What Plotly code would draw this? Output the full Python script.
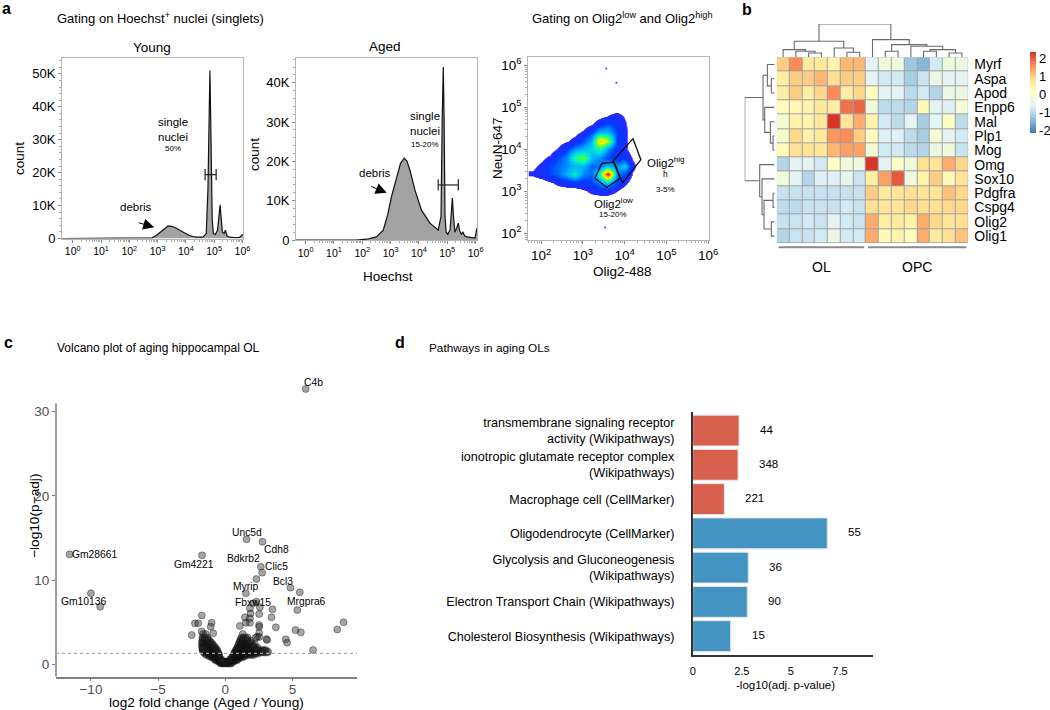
import math
import plotly.graph_objects as go

W, H = 1050, 710
FONT = "Liberation Sans, Arial, Helvetica, sans-serif"

# ============================ DATA ============================
# --- a: Hoechst histograms (x = log10 Hoechst intensity, y = events) ---
hoechst_decades = [0, 1, 2, 3, 4, 5, 6]
young_log_hoechst = [-0.38, 2.65, 2.8, 2.95, 3.1, 3.25, 3.37, 3.5, 3.65, 3.8, 3.95, 4.1, 4.25, 4.4,
                     4.6, 4.72, 4.78, 4.82, 4.85, 4.88, 4.93, 4.97, 5.04, 5.12, 5.17, 5.21, 5.24,
                     5.29, 5.35, 5.4, 5.45, 5.55, 5.7, 5.9, 5.97, 6.03]
young_count = [0, 0, 200, 900, 2000, 3200, 3800, 3700, 3200, 2400, 1600, 1000, 600, 400,
               400, 1500, 15000, 45000, 51000, 35000, 6000, 1500, 1200, 2500, 7500, 10200, 7000,
               2000, 1500, 2500, 800, 400, 300, 300, 1000, 1200]
aged_log_hoechst = [-0.34, 1.8, 2.15, 2.5, 2.74, 2.9, 3.03, 3.21, 3.35, 3.48, 3.58, 3.68, 3.86, 4.09,
                    4.39, 4.68, 4.78, 4.82, 4.86, 4.89, 4.92, 4.96, 5.02, 5.1, 5.14, 5.18, 5.22,
                    5.27, 5.33, 5.39, 5.44, 5.5, 5.55, 5.62, 5.7, 5.85, 5.98, 6.02, 6.05]
aged_count = [0, 0, 200, 800, 2500, 6500, 11000, 16000, 19500, 20800, 20000, 17800, 12700, 7600,
              4300, 2500, 6000, 30000, 44000, 30000, 6000, 2000, 1500, 2500, 8000, 10700, 6000,
              2000, 3000, 4300, 2200, 1500, 2000, 1000, 800, 600, 500, 2000, 3000]
young_gate_log = [4.68, 5.07]
young_gate_count = 19400
aged_gate_log = [4.68, 5.39]
aged_gate_count = 14000
young_count_ticks = [0, 10000, 20000, 30000, 40000, 50000]
young_count_labels = ["0", "10K", "20K", "30K", "40K", "50K"]
aged_count_ticks = [0, 10000, 20000, 30000, 40000]
aged_count_labels = ["0", "10K", "20K", "30K", "40K"]

# --- a: Olig2 / NeuN density plot (log10 units), density ---
olig2_decades = [2, 3, 4, 5, 6]
neun_decades = [2, 3, 4, 5, 6]
density_log_olig2 = [1.8, 2.0, 2.2, 2.4, 2.6, 2.8, 3.0, 3.2, 3.4, 3.6, 3.8, 4.0, 4.2, 4.4, 4.6]
density_log_neun = [2.8, 3.0, 3.2, 3.4, 3.6, 3.8, 4.0, 4.2, 4.4, 4.6, 4.8, 5.0]
density = [
    [0,   0,   0,   0,   0,   0,   0,   0,   0,   0,   0,   0,   0,   0, 0],
    [0,   0,   0,   0,   0,   0,   0.3, 0.7, 0.9, 0.9, 0.5, 0,   0,   0, 0],
    [0,   0,   0.3, 0.7, 1.0, 1.2, 1.2, 1.5, 2.3, 3.2, 1.4, 0.7, 0,   0, 0],
    [0.6, 1.0, 1.6, 2.0, 3.0, 4.0, 2.5, 2.0, 4.5, 10., 2.5, 1.6, 0.4, 0, 0],
    [0.3, 0.7, 1.6, 2.0, 2.5, 3.0, 3.0, 2.0, 2.0, 3.0, 2.5, 3.5, 0.7, 0, 0],
    [0,   0.3, 0.7, 1.6, 2.4, 4.5, 5.5, 3.0, 2.5, 1.6, 1.2, 1.2, 0.4, 0, 0],
    [0,   0,   0,   0.6, 1.5, 2.5, 3.0, 3.5, 4.5, 2.5, 1.2, 0.7, 0,   0, 0],
    [0,   0,   0,   0,   0.4, 0.8, 1.6, 3.0, 7.5, 6.0, 1.6, 0.7, 0,   0, 0],
    [0,   0,   0,   0,   0,   0.2, 0.6, 1.5, 3.0, 3.0, 1.6, 0.7, 0,   0, 0],
    [0,   0,   0,   0,   0,   0,   0,   0.4, 1.1, 1.8, 1.3, 0.6, 0,   0, 0],
    [0,   0,   0,   0,   0,   0,   0,   0,   0.2, 0.5, 0.8, 0.4, 0,   0, 0],
    [0,   0,   0,   0,   0,   0,   0,   0,   0,   0,   0,   0,   0,   0, 0],
]
stray_log_olig2 = [3.56, 3.80, 3.53]
stray_log_neun = [5.92, 5.58, 2.14]
gate_low_olig2 = [3.29, 3.45, 3.75, 3.89, 3.57, 3.29]
gate_low_neun = [3.31, 3.66, 3.69, 3.31, 3.09, 3.31]
gate_high_olig2 = [3.72, 4.20, 4.39, 3.95, 3.72]
gate_high_neun = [3.72, 4.25, 3.75, 3.20, 3.72]

# --- b: heatmap of OL / OPC markers (row z-scores) ---
genes = ["Myrf", "Aspa", "Apod", "Enpp6", "Mal", "Plp1", "Mog",
         "Omg", "Sox10", "Pdgfra", "Cspg4", "Olig2", "Olig1"]
cell_groups = ["OL"] * 7 + ["OPC"] * 8
heat_values = [
    [1.0, 1.6, 0.6, 0.6, 0.4, 1.2, 1.2, -0.6, -0.3, -0.3, -1.3, -1.5, -0.8, -0.3, -0.4],
    [0.5, 1.0, 1.0, 1.2, 0.8, 1.0, 1.0, -0.6, -0.8, -0.8, -1.2, -0.9, -0.4, -0.6, -0.6],
    [0.5, 1.0, 0.5, 0.9, 1.6, 0.5, 0.9, 0.1, -0.6, -0.6, -1.0, -0.8, -1.1, -0.4, -0.4],
    [0.1, 0.2, 0.4, 0.6, 0.5, 1.8, 1.9, -0.3, -1.0, -1.0, -1.1, 0.2, -0.6, -0.7, -0.2],
    [-0.2, 0.4, 0.4, 0.6, 2.3, 0.7, 1.3, 0.4, -0.8, -1.0, -0.6, -1.2, -0.6, 0.0, -1.0],
    [-0.1, 0.9, 0.4, 0.6, 1.5, 1.6, 1.0, 0.1, -0.7, -0.7, -1.0, -1.2, -0.2, -0.6, -0.8],
    [0.2, 0.8, 0.7, 0.6, 1.2, 1.4, 1.4, -0.2, -0.8, -0.8, -1.0, -1.1, -0.4, -0.3, -0.9],
    [-1.1, -0.6, -0.6, -0.8, 0.0, -0.3, -0.3, 2.3, -0.6, 0.0, -0.3, 0.8, 0.7, 1.3, 0.9],
    [-0.3, -0.6, -1.1, -0.7, -0.7, -0.5, -0.9, 0.5, 1.4, 2.0, -0.3, 0.4, 1.0, 0.2, 0.7],
    [-0.9, -0.9, -0.9, -0.9, -0.9, -0.9, -0.9, 1.0, 0.6, 0.7, 0.8, 0.7, 0.7, 1.1, 0.9],
    [-1.0, -1.0, -0.9, -0.9, -0.9, -0.8, -0.9, 0.8, 0.7, 0.7, 0.9, 0.8, 0.8, 0.9, 0.9],
    [-0.9, -0.9, -0.8, -0.9, -0.6, -0.8, -0.9, 1.3, 0.5, 0.6, 0.4, 1.3, 0.9, 0.7, 0.8],
    [-1.1, -0.9, -0.9, -0.8, -0.4, -0.8, -0.8, 1.3, 0.2, 0.4, 0.1, 1.3, 0.6, 0.8, 1.1],
]
heat_zmin, heat_zmax = -2.17, 2.33
# hierarchical clustering merges: (child a, child b, height); leaves are 0..n-1
col_merges = [(5, 6, 15), (4, 15, 28), (2, 3, 13), (1, 17, 18), (0, 18, 23), (19, 16, 48),
              (8, 9, 18), (13, 14, 13), (11, 12, 18), (23, 22, 23), (10, 24, 33), (21, 25, 38),
              (7, 26, 53), (20, 27, 100)]
row_merges = [(1, 2, 10), (0, 13, 22), (5, 6, 5), (4, 15, 13), (3, 16, 30), (14, 17, 35),
              (9, 10, 5), (11, 12, 10), (19, 20, 32), (8, 21, 38), (7, 22, 45), (18, 23, 90)]

# --- c: volcano plot ---
gene_names = ["C4b", "Gm28661", "Gm10136", "Gm4221", "Unc5d", "Cdh8", "Bdkrb2", "Clic5",
              "Bcl3", "Myrip", "Fbxw15", "Mrgpra6"]
gene_lfc = [5.98, -11.59, -10.0, -1.73, 1.58, 2.77, 2.64, 2.74, 4.85, 1.53, 2.32, 5.54]
gene_nlp = [32.7, 13.06, 8.43, 12.94, 14.84, 14.56, 11.59, 10.88, 9.1, 8.43, 7.44, 8.55]
other_lfc = [-9.31, 2.32, 5.36, 3.51, 3.44, 3.76, 3.06, 4.5, 4.6, 5.22, 5.62, 6.53, 8.33, 8.8,
             -2.5, -2.26, -2.01, -1.75, -1.02, -1.09, -1.76, -0.9, -1.65, 1.08, 1.46, 1.83,
             1.53, 1.83, 2.52, 2.07, 2.57, 1.83, 2.52, 2.52, 2.37, 3.11, 2.94, 3.19, 1.88,
             2.52, 2.27, 2.52]
other_nlp = [6.84, 10.13, 6.45, 6.53, 5.58, 4.4, 3.0, 2.97, 2.57, 4.07, 3.8, 1.7, 4.15, 4.99,
             3.48, 4.87, 4.87, 5.8, 4.94, 4.47, 3.9, 3.68, 1.82, 4.55, 5.58, 5.46,
             4.94, 4.94, 5.97, 7.24, 6.77, 6.65, 4.67, 3.76, 3.28, 2.89, 1.6, 1.5, 6.04,
             3.25, 3.17, 4.45]
# dense non-significant cloud near the origin, read row by row
cluster_nlp_rows = [0.1, 0.3, 0.45, 0.6, 0.8, 0.95, 1.1, 1.25, 1.4, 1.55, 1.7, 1.85, 2.0, 2.2,
                    2.4, 2.6, 2.8, 3.0, 3.2, 3.6]
cluster_lfc_rows = [
    [-0.35, -0.25, -0.15, -0.05, 0.05, 0.15, 0.25, 0.35, 0.45],
    [-0.5, -0.4, -0.3, -0.2, -0.1, 0.0, 0.1, 0.2, 0.3, 0.4, 0.5, 0.6],
    [-0.7, -0.55, -0.45, -0.35, -0.25, 0.3, 0.4, 0.5, 0.6, 0.7, 0.85],
    [-0.8, -0.65, -0.5, -0.4, -0.3, 0.35, 0.45, 0.55, 0.7, 0.8, 0.95],
    [-1.0, -0.85, -0.7, -0.55, -0.45, 0.5, 0.65, 0.8, 0.95, 1.1, 1.25],
    [-1.2, -1.05, -0.9, -0.75, -0.6, -0.5, 0.55, 0.7, 0.85, 1.0, 1.15, 1.3, 1.45],
    [-1.4, -1.2, -1.0, -0.85, -0.7, -0.55, -0.45, 0.6, 0.75, 0.9, 1.05, 1.2, 1.35, 1.5, 1.7, 1.9, 2.1],
    [-1.5, -1.3, -1.1, -0.95, -0.8, -0.65, -0.5, 0.65, 0.8, 0.95, 1.1, 1.25, 1.4, 1.6, 1.8, 2.0,
     2.2, 2.4],
    [-1.6, -1.4, -1.2, -1.0, -0.85, -0.7, -0.55, 0.7, 0.85, 1.0, 1.15, 1.3, 1.45, 1.6, 1.75, 1.9,
     2.1, 2.3, 2.5, 2.7, 2.9, 3.1],
    [-1.65, -1.45, -1.25, -1.05, -0.9, -0.75, -0.6, 0.75, 0.9, 1.05, 1.2, 1.35, 1.5, 1.7, 1.9,
     2.05, 2.25, 2.45, 2.65, 2.85],
    [-1.7, -1.5, -1.3, -1.1, -0.9, -0.75, -0.6, 0.8, 0.95, 1.1, 1.25, 1.4, 1.55, 1.7, 1.85, 2.0,
     2.2, 2.4, 2.6, 2.8, 3.0],
    [-1.7, -1.55, -1.35, -1.2, -1.0, -0.85, -0.7, 0.85, 1.0, 1.15, 1.3, 1.45, 1.6, 1.75, 1.95,
     2.15, 2.3],
    [-1.7, -1.5, -1.3, -1.1, -0.9, -0.75, 0.9, 1.05, 1.2, 1.35, 1.5, 1.65, 1.8, 2.0, 2.2, 2.4],
    [-1.75, -1.6, -1.4, -1.2, -1.0, -0.85, 0.95, 1.1, 1.25, 1.4, 1.55, 1.75, 1.95, 2.1],
    [-1.7, -1.5, -1.3, -1.1, -0.95, 1.0, 1.15, 1.3, 1.45, 1.6, 1.8, 2.0, 2.2],
    [-1.75, -1.6, -1.4, -1.2, -1.05, 1.05, 1.2, 1.35, 1.5, 1.65, 1.85],
    [-1.7, -1.5, -1.3, -1.15, 1.1, 1.25, 1.4, 1.55, 1.7, 1.9],
    [-1.7, -1.5, -1.3, 1.15, 1.3, 1.45, 1.6],
    [-1.7, -1.55, -1.35, 1.2, 1.35, 1.5, 1.65],
    [-1.65, -1.45, 1.3],
]
padj_cutoff = 0.05
volcano_xticks = [-10, -5, 0, 5]
volcano_xlabels = ["\u221210", "\u22125", "0", "5"]
volcano_yticks = [0, 10, 20, 30]

# --- d: pathway enrichment ---
pathway_labels = ["transmembrane signaling receptor<br>activity (Wikipathways)",
                  "ionotropic glutamate receptor complex<br>(Wikipathways)",
                  "Macrophage cell (CellMarker)",
                  "Oligodendrocyte (CellMarker)",
                  "Glycolysis and Gluconeogenesis<br>(Wikipathways)",
                  "Electron Transport Chain (Wikipathways)",
                  "Cholesterol Biosynthesis (Wikipathways)"]
pathway_neglog10_padj = [2.36, 2.31, 1.61, 6.85, 2.83, 2.78, 1.93]
pathway_gene_counts = [44, 348, 221, 55, 36, 90, 15]
pathway_direction = ["up", "up", "up", "down", "down", "down", "down"]
pathway_xticks = [0, 2.5, 5, 7.5]
pathway_xlabels = ["0", "2.5", "5", "7.5"]

# ============================ STYLE ============================
def hx(px):
    return px / W


def vy(py):
    return 1 - py / H


def axis(dom_px, rng, horizontal=True, **kw):
    if horizontal:
        dom = [hx(dom_px[0]), hx(dom_px[1])]
    else:
        dom = [vy(dom_px[0]), vy(dom_px[1])]
    d = dict(domain=dom, range=rng, showgrid=False, zeroline=False, fixedrange=True)
    d.update(kw)
    return d


frame = dict(showline=True, linecolor="#b5b5b5", linewidth=1, mirror=True, ticks="outside",
             ticklen=3, tickcolor="#8a8a8a", tickwidth=1)


def log_minor(lo, hi):
    vals = []
    for n in range(lo, hi):
        for k in range(2, 10):
            vals.append(n + math.log10(k))
    return vals


def decade_text(decs):
    return ["10<sup>%d</sup>" % d for d in decs]


def dendro_lines(merges, n_leaves):
    pos = {i: float(i) for i in range(n_leaves)}
    hgt = {i: 0.0 for i in range(n_leaves)}
    a_pos, h_pos = [], []
    for k, (a, b, h) in enumerate(merges):
        node = n_leaves + k
        a_pos += [pos[a], pos[a], pos[b], pos[b], None]
        h_pos += [hgt[a], h, h, hgt[b], None]
        pos[node] = (pos[a] + pos[b]) / 2
        hgt[node] = h
    return a_pos, h_pos


fig = go.Figure()

# ---- a: histograms ----
for xa, ya, xs, ys, gx, gy in [("x", "y", young_log_hoechst, young_count, young_gate_log, young_gate_count),
                               ("x2", "y2", aged_log_hoechst, aged_count, aged_gate_log, aged_gate_count)]:
    fig.add_trace(go.Scatter(x=xs, y=ys, mode="lines", fill="tozeroy", fillcolor="#a3a3a3",
                             line=dict(color="#111", width=1.2), xaxis=xa, yaxis=ya, hoverinfo="skip"))
    fig.add_trace(go.Scatter(x=gx, y=[gy, gy], mode="lines+markers",
                             line=dict(color="#222", width=1.2),
                             marker=dict(symbol="line-ns-open", size=8, color="#222",
                                         line=dict(width=1.2, color="#222")),
                             xaxis=xa, yaxis=ya, hoverinfo="skip"))

# ---- a: density scatter ----
dens_scale = [[0, "white"], [0.045, "white"], [0.05, "rgb(40,40,255)"], [0.15, "rgb(0,60,255)"],
              [0.28, "rgb(0,170,255)"], [0.4, "rgb(0,240,210)"], [0.5, "rgb(60,255,80)"],
              [0.62, "rgb(220,255,0)"], [0.72, "rgb(255,220,0)"], [0.85, "rgb(255,110,0)"],
              [1, "rgb(230,0,0)"]]
fig.add_trace(go.Heatmap(x=density_log_olig2, y=density_log_neun, z=density, zsmooth="best",
                         colorscale=dens_scale, zmin=0, zmax=10, showscale=False,
                         xaxis="x3", yaxis="y3", hoverinfo="skip"))
fig.add_trace(go.Scatter(x=stray_log_olig2, y=stray_log_neun, mode="markers",
                         marker=dict(size=2, color="#3b3bff"), xaxis="x3", yaxis="y3"))
for gx, gy in [(gate_low_olig2, gate_low_neun), (gate_high_olig2, gate_high_neun)]:
    fig.add_trace(go.Scatter(x=gx, y=gy, mode="lines", line=dict(color="#111", width=1.3),
                             xaxis="x3", yaxis="y3", hoverinfo="skip"))

# ---- b: heatmap ----
pheat = ["#4575B4", "#91BFDB", "#E0F3F8", "#FFFFBF", "#FEE090", "#FC8D59", "#D73027"]
pheat_scale = [[i / (len(pheat) - 1), c] for i, c in enumerate(pheat)]
n_rows, n_cols = len(genes), len(cell_groups)
fig.add_trace(go.Heatmap(z=heat_values, x=list(range(n_cols)), y=list(range(n_rows)),
                         colorscale=pheat_scale, zmin=heat_zmin, zmax=heat_zmax, xgap=1, ygap=1,
                         xaxis="x4", yaxis="y4", hoverinfo="skip",
                         colorbar=dict(x=hx(1030), xanchor="left", y=vy(92.5), yanchor="middle",
                                       len=81, lenmode="pixels", thickness=6, thicknessmode="pixels",
                                       outlinewidth=0, tickvals=[-2, -1, 0, 1, 2],
                                       ticktext=["-2", "-1", "0", "1", "2"], ticks="",
                                       tickfont=dict(size=13, family=FONT, color="black"),
                                       xpad=0, ypad=0)))
cx, ch = dendro_lines(col_merges, n_cols)
fig.add_trace(go.Scatter(x=cx, y=ch, mode="lines", line=dict(color="#6a6a6a", width=1.1),
                         xaxis="x5", yaxis="y5", hoverinfo="skip"))
rx, rh = dendro_lines(row_merges, n_rows)
fig.add_trace(go.Scatter(x=rh, y=rx, mode="lines", line=dict(color="#6a6a6a", width=1.1),
                         xaxis="x6", yaxis="y6", hoverinfo="skip"))

# ---- c: volcano ----
cl_x, cl_y = [], []
for yv, row in zip(cluster_nlp_rows, cluster_lfc_rows):
    for xv in row:
        cl_x.append(xv)
        cl_y.append(yv)
pt_style = dict(size=7, color="rgba(40,40,40,0.42)", line=dict(width=0.8, color="rgba(0,0,0,0.45)"))
for xs, ys in [(cl_x, cl_y), (other_lfc, other_nlp), (gene_lfc, gene_nlp)]:
    fig.add_trace(go.Scatter(x=xs, y=ys, mode="markers", marker=pt_style, cliponaxis=False,
                             xaxis="x7", yaxis="y7", hoverinfo="skip"))

# ---- d: bars ----
dir_color = {"up": "#d6604d", "down": "#4393c3"}
fig.add_trace(go.Bar(x=pathway_neglog10_padj, y=pathway_labels, orientation="h", width=0.9,
                     marker=dict(color=[dir_color[d] for d in pathway_direction],
                                 line=dict(color="#e4e4e4", width=1)),
                     xaxis="x8", yaxis="y8", hoverinfo="skip"))

# ============================ LAYOUT ============================
tick13 = dict(size=13, family=FONT, color="black")
vol_y_range = [-1.47, 34.6]
vol_axis_top = 31.0
layout = dict(
    width=W, height=H, margin=dict(l=0, r=0, t=0, b=0, autoexpand=False), paper_bgcolor="white",
    plot_bgcolor="rgba(0,0,0,0)", showlegend=False, hovermode=False,
    font=dict(family=FONT, color="black"),
    xaxis=axis((62, 243.3), [-0.38, 6.03], anchor="y", tickvals=hoechst_decades,
               ticktext=decade_text(hoechst_decades), tickfont=dict(size=10.5, family=FONT, color="black"),
               minor=dict(tickvals=log_minor(0, 6), ticklen=2, tickcolor="#aaa", ticks="outside"), **frame),
    yaxis=axis((238.5, 57.7), [0, 54900], horizontal=False, anchor="x", tickvals=young_count_ticks,
               ticktext=young_count_labels, tickfont=tick13,
               minor=dict(dtick=2000, ticklen=2, tickcolor="#aaa", ticks="outside"), **frame),
    xaxis2=axis((296, 477), [-0.34, 6.05], anchor="y2", tickvals=hoechst_decades,
                ticktext=decade_text(hoechst_decades), tickfont=dict(size=10.5, family=FONT, color="black"),
                minor=dict(tickvals=log_minor(0, 6), ticklen=2, tickcolor="#aaa", ticks="outside"), **frame),
    yaxis2=axis((240, 58), [0, 46300], horizontal=False, anchor="x2", tickvals=aged_count_ticks,
                ticktext=aged_count_labels, tickfont=tick13,
                minor=dict(dtick=2000, ticklen=2, tickcolor="#aaa", ticks="outside"), **frame),
    xaxis3=axis((528.3, 709.3), [1.69, 6.03], anchor="y3", tickvals=olig2_decades,
                ticktext=decade_text(olig2_decades), tickfont=dict(size=13.5, family=FONT, color="black"),
                minor=dict(tickvals=log_minor(1, 6), ticklen=2, tickcolor="#aaa", ticks="outside"), **frame),
    yaxis3=axis((240, 56.7), [1.84, 6.2], horizontal=False, anchor="x3", tickvals=neun_decades,
                ticktext=decade_text(neun_decades), tickfont=dict(size=13.5, family=FONT, color="black"),
                minor=dict(tickvals=log_minor(1, 6), ticklen=2, tickcolor="#aaa", ticks="outside"), **frame),
    xaxis4=axis((776.7, 968.3), [-0.5, n_cols - 0.5], anchor="y4", showticklabels=False, ticks=""),
    yaxis4=axis((243.3, 57.3), [n_rows - 0.5, -0.5], horizontal=False, anchor="x4", side="right",
                tickvals=list(range(n_rows)), ticktext=genes, ticks="", ticklabelstandoff=5,
                tickfont=dict(size=14, family=FONT, color="black")),
    xaxis5=axis((776.7, 968.3), [-0.5, n_cols - 0.5], anchor="y5", visible=False),
    yaxis5=axis((57.3, 24), [0, 100], horizontal=False, anchor="x5", visible=False),
    xaxis6=axis((744.7, 774.7), [90, 0], anchor="y6", visible=False),
    yaxis6=axis((243.3, 57.3), [n_rows - 0.5, -0.5], horizontal=False, anchor="x6", visible=False),
    xaxis7=axis((56, 357), [-12.6, 9.8], anchor="y7", showline=True, linecolor="#808080", linewidth=1.5,
                ticks="outside", ticklen=3, tickcolor="#808080", tickvals=volcano_xticks,
                ticktext=volcano_xlabels, ticklabelstandoff=-4,
                tickfont=dict(size=13.5, family=FONT, color="#4d4d4d")),
    yaxis7=axis((676.7, 676.7 - (vol_y_range[1] - vol_y_range[0]) * 8.42), vol_y_range,
                horizontal=False, anchor="x7", showline=False,
                ticks="outside", ticklen=3, tickcolor="#808080",
                tickvals=volcano_yticks, tickfont=dict(size=13.5, family=FONT, color="#4d4d4d")),
    xaxis8=axis((692.7, 873), [0, 9.18], anchor="y8", showline=True, linecolor="#333", linewidth=1.5,
                ticks="", tickvals=pathway_xticks, ticktext=pathway_xlabels, ticklabelstandoff=5,
                tickfont=dict(size=11, family=FONT, color="black")),
    yaxis8=axis((655, 411.7), [len(pathway_labels) - 0.45, -0.55], horizontal=False, anchor="x8",
                type="category", showline=True, linecolor="#333", linewidth=1.5, ticks="",
                ticklabelstandoff=14, tickfont=dict(size=12.6, family=FONT, color="black")),
)
fig.update_layout(**layout)

# background grey for heatmap cell borders
fig.add_shape(type="rect", xref="x4", yref="y4", x0=-0.5, x1=n_cols - 0.5, y0=-0.5, y1=n_rows - 0.5,
              fillcolor="#a0a0a0", line=dict(width=0), layer="below")
# OL / OPC brackets
for g in ["OL", "OPC"]:
    idx = [i for i, c in enumerate(cell_groups) if c == g]
    fig.add_shape(type="line", xref="x4", yref="paper", x0=idx[0] - 0.35, x1=idx[-1] + 0.35,
                  y0=vy(247.3), y1=vy(247.3), line=dict(color="#8a8a8a", width=2))
    fig.add_annotation(x=(idx[0] + idx[-1]) / 2, y=vy(266.7), xref="x4", yref="paper", text=g,
                       showarrow=False, font=dict(size=14, family=FONT, color="black"))
# volcano y axis line (stops below the top-most point, as in the source)
fig.add_shape(type="line", xref="x7 domain", yref="y7", x0=0, x1=0, y0=vol_y_range[0], y1=vol_axis_top,
              line=dict(color="#808080", width=1.5))
# significance threshold
fig.add_shape(type="line", xref="x7 domain", yref="y7", x0=0, x1=1, y0=-math.log10(padj_cutoff),
              y1=-math.log10(padj_cutoff), line=dict(color="#a8a8a8", width=1.2, dash="3px,3px"))


def note(x, y, text, size=13, xanchor="center", yanchor="middle", color="black", **kw):
    d = dict(x=hx(x), y=vy(y), xref="paper", yref="paper", text=text, showarrow=False,
             font=dict(size=size, family=FONT, color=color), xanchor=xanchor, yanchor=yanchor)
    d.update(kw)
    return d


notes = [
    note(0, 9, "<b>a</b>", 16, xanchor="left"),
    note(55, 18, "Gating on Hoechst<sup>+</sup> nuclei (singlets)", 13, xanchor="left"),
    note(152, 47, "Young", 13.5),
    note(385, 46, "Aged", 13.5),
    note(19, 159, "count", 13.5, textangle=-90),
    note(255, 155, "count", 13.5, textangle=-90),
    note(173, 129, "single<br>nuclei", 11.5),
    note(173, 149, "50%", 8),
    note(136, 207, "debris", 11.5),
    note(425, 124, "single<br>nuclei", 11.5),
    note(425, 145, "15-20%", 8),
    note(375, 173, "debris", 11.5),
    note(388, 277, "Hoechst", 13.5),
    note(530, 18, "Gating on Olig2<sup>low</sup> and Olig2<sup>high</sup>", 13, xanchor="left"),
    note(498, 148, "NeuN-647", 13.5, textangle=-90),
    note(622, 272, "Olig2-488", 13.5),
    note(666, 162, "Olig2<sup>hig</sup>", 11.5),
    note(666, 174, "h", 8.5),
    note(666, 190, "3-5%", 8),
    note(613, 203, "Olig2<sup>low</sup>", 11.5),
    note(613, 214, "15-20%", 8),
    note(740, 10, "<b>b</b>", 16, xanchor="left"),
    note(2, 342, "<b>c</b>", 16, xanchor="left"),
    note(55, 348, "Volcano plot of aging hippocampal OL", 12, xanchor="left"),
    note(206.7, 702, "log2 fold change (Aged / Young)", 13.7),
    note(34, 516, "\u2212log10(p\u2212adj)", 13.7, textangle=-90),
    note(393, 342, "<b>d</b>", 16, xanchor="left"),
    note(427, 348, "Pathways in aging OLs", 11.8, xanchor="left"),
    note(785, 685, "-log10(adj. p-value)", 11.5),
]
for n in notes:
    fig.add_annotation(**n)

# arrows to debris peaks
fig.add_annotation(x=2.88, y=3400, xref="x", yref="y", ax=-17, ay=-5, text="", showarrow=True,
                   arrowhead=2, arrowsize=2.2, arrowwidth=1, arrowcolor="black", standoff=0)
fig.add_annotation(x=2.86, y=12000, xref="x2", yref="y2", ax=-17, ay=-7, text="", showarrow=True,
                   arrowhead=2, arrowsize=2.2, arrowwidth=1, arrowcolor="black", standoff=0)

# volcano gene labels
label_offsets = {"C4b": (8, 6), "Gm28661": (25, 0), "Gm10136": (-7, -8), "Gm4221": (-8, -9),
                 "Unc5d": (0, 7), "Cdh8": (14, -8), "Bdkrb2": (-17, 8), "Clic5": (14, 6),
                 "Bcl3": (-7, 6), "Myrip": (0, 7), "Fbxw15": (-3, -1), "Mrgpra6": (7, -9)}
for name, xv, yv in zip(gene_names, gene_lfc, gene_nlp):
    dx, dy = label_offsets[name]
    fig.add_annotation(x=xv, y=yv, xref="x7", yref="y7", text=name, showarrow=False,
                       xshift=dx, yshift=dy, font=dict(size=10.3, family=FONT, color="black"))

# bar counts
for lab, v, c in zip(pathway_labels, pathway_neglog10_padj, pathway_gene_counts):
    fig.add_annotation(x=v, y=lab, xref="x8", yref="y8", text=str(c), showarrow=False,
                       xanchor="left", xshift=19, yshift=1,
                       font=dict(size=11.5, family=FONT, color="black"))

# page body has an 8px default margin; remove it so the figure sits at the window origin
fig.write_html("out.html", config={"displayModeBar": False},
               post_script="document.body.style.margin='0';")
